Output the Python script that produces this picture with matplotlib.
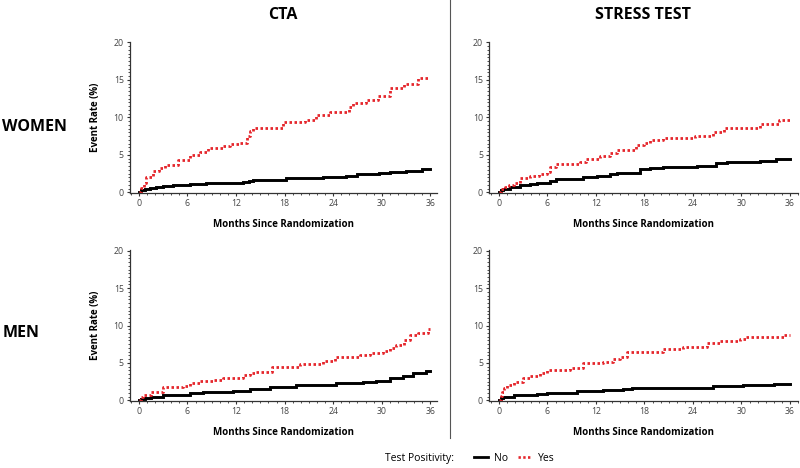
import matplotlib
matplotlib.use("Agg")
import matplotlib.pyplot as plt
from matplotlib.lines import Line2D
from matplotlib.ticker import MultipleLocator

plt.rcParams['font.family'] = ['Open Sans', 'DejaVu Sans']

# Kaplan-Meier-artige Kurven (Monat, Ereignisrate %)
cta_women_yes_t = [0, 0.3, 0.6, 0.9, 1.7, 2.5, 3.2, 4.8, 6.3, 7.5, 8.5, 10.4, 11.2, 12.4, 13.3, 13.7, 14.1,
                   17.8, 20.5, 21.9, 23.6, 26.0, 26.5, 28.1, 29.5, 31.0, 32.8, 34.5, 36]
cta_women_yes_v = [0, 0.6, 1.3, 2.0, 2.9, 3.3, 3.6, 4.3, 5.0, 5.4, 5.9, 6.2, 6.4, 6.6, 7.5, 8.2, 8.6,
                   9.4, 9.7, 10.3, 10.7, 11.4, 11.9, 12.3, 12.8, 13.9, 14.5, 15.3, 15.3]
cta_women_no_t = [0, 0.3, 0.7, 1.4, 2.1, 3.0, 4.2, 6.3, 8.3, 10.4, 12.9, 13.6, 14.1, 18.2, 22.7, 25.6,
                  26.9, 29.7, 31.0, 33.0, 35.0, 36]
cta_women_no_v = [0, 0.25, 0.45, 0.6, 0.75, 0.85, 1.0, 1.07, 1.2, 1.3, 1.4, 1.55, 1.65, 1.85, 2.05, 2.2,
                  2.4, 2.55, 2.75, 2.9, 3.1, 3.1]

st_women_yes_t = [0, 0.3, 0.7, 1.2, 1.8, 2.6, 3.8, 4.9, 5.9, 6.3, 7.1, 10.0, 10.8, 12.5, 13.7, 14.6,
                  17.0, 17.9, 18.7, 20.3, 24.2, 26.5, 27.8, 32.3, 34.6, 36]
st_women_yes_v = [0, 0.4, 0.7, 1.0, 1.3, 1.9, 2.2, 2.5, 2.75, 3.4, 3.8, 4.1, 4.5, 4.8, 5.3, 5.7,
                  6.3, 6.6, 7.0, 7.3, 7.5, 8.1, 8.6, 9.1, 9.6, 9.6]
st_women_no_t = [0, 0.2, 0.5, 1.4, 2.6, 3.8, 4.7, 5.9, 6.3, 7.1, 10.4, 12.1, 13.7, 14.6, 17.4, 18.7,
                 20.3, 24.5, 26.9, 28.2, 32.3, 34.3, 36]
st_women_no_v = [0, 0.3, 0.5, 0.75, 1.0, 1.1, 1.2, 1.25, 1.5, 1.75, 2.1, 2.2, 2.45, 2.6, 3.05, 3.25,
                 3.4, 3.5, 3.85, 4.1, 4.2, 4.5, 4.5]

cta_men_yes_t = [0, 0.2, 0.5, 1.5, 3.0, 5.4, 6.3, 7.5, 9.1, 10.4, 12.9, 13.7, 14.5, 16.4, 19.9, 22.7,
                 24.2, 27.3, 28.5, 30.2, 31.0, 31.8, 32.8, 33.5, 34.5, 35.7, 36]
cta_men_yes_v = [0, 0.4, 0.7, 1.15, 1.75, 1.95, 2.3, 2.55, 2.7, 3.0, 3.4, 3.6, 3.8, 4.4, 4.85, 5.2,
                 5.85, 6.05, 6.3, 6.6, 6.95, 7.4, 8.05, 8.7, 9.0, 9.6, 9.6]
cta_men_no_t = [0, 0.3, 0.7, 1.5, 3.0, 6.3, 7.9, 11.6, 13.7, 16.2, 19.4, 24.4, 27.7, 29.3, 31.0, 32.6,
                33.9, 35.5, 36]
cta_men_no_v = [0, 0.2, 0.35, 0.5, 0.67, 0.93, 1.1, 1.25, 1.45, 1.8, 2.0, 2.35, 2.45, 2.6, 2.95, 3.25,
                3.6, 3.85, 3.85]

st_men_yes_t = [0, 0.2, 0.4, 0.6, 1.0, 1.8, 3.0, 3.8, 5.1, 5.9, 8.8, 10.4, 12.9, 14.1, 15.0, 15.8,
                20.3, 22.8, 25.7, 27.3, 29.8, 30.6, 35.2, 36]
st_men_yes_v = [0, 0.6, 1.1, 1.6, 2.05, 2.5, 2.95, 3.25, 3.6, 4.05, 4.3, 4.95, 5.15, 5.5, 5.85, 6.5,
                6.8, 7.1, 7.7, 7.9, 8.15, 8.5, 8.8, 8.8]
st_men_no_t = [0, 0.2, 0.5, 1.8, 4.7, 5.9, 9.6, 12.9, 15.4, 16.4, 26.5, 30.2, 34.0, 36]
st_men_no_v = [0, 0.3, 0.5, 0.7, 0.9, 1.0, 1.2, 1.35, 1.55, 1.65, 1.95, 2.1, 2.2, 2.2]

col_titles = ["CTA", "STRESS TEST"]
row_titles = ["WOMEN", "MEN"]
x_ticks = [0, 6, 12, 18, 24, 30, 36]
y_ticks = [0, 5, 10, 15, 20]

RED = "#e5262c"
DOTS = (0, (0.9, 0.9))
panels = [
    ((0.1625, 0.5876, 0.384, 0.3226), (-1.1, 36.85), cta_women_no_t, cta_women_no_v, cta_women_yes_t, cta_women_yes_v, True),
    ((0.6116, 0.5876, 0.386, 0.3226), (-1.2, 37.0), st_women_no_t, st_women_no_v, st_women_yes_t, st_women_yes_v, False),
    ((0.1625, 0.1432, 0.384, 0.3216), (-1.1, 36.85), cta_men_no_t, cta_men_no_v, cta_men_yes_t, cta_men_yes_v, True),
    ((0.6116, 0.1432, 0.386, 0.3216), (-1.2, 37.0), st_men_no_t, st_men_no_v, st_men_yes_t, st_men_yes_v, False),
]

fig = plt.figure(figsize=(8, 4.68), dpi=100)

for rect, xl, tn, vn, ty, vy, show_ylab in panels:
    ax = fig.add_axes(rect)
    ax.plot(tn, vn, drawstyle="steps-post", color="black", lw=2.1, solid_joinstyle="miter")
    ax.plot(ty, vy, drawstyle="steps-post", color=RED, lw=2.0, linestyle=DOTS)
    ax.set_xlim(*xl)
    ax.set_ylim(-0.1, 20.05)
    ax.set_xticks(x_ticks)
    ax.set_yticks(y_ticks)
    ax.xaxis.set_minor_locator(MultipleLocator(1))
    ax.yaxis.set_minor_locator(MultipleLocator(0.5))
    for s in ["top", "right"]:
        ax.spines[s].set_visible(False)
    for s in ["left", "bottom"]:
        ax.spines[s].set_linewidth(0.9)
        ax.spines[s].set_color("#333333")
    ax.tick_params(which="major", length=2.5, width=0.8, colors="#333333", labelsize=6.3, pad=2,
                   labelcolor="#444444")
    ax.tick_params(which="minor", length=1.3, width=0.6, colors="#333333")
    ax.set_xlabel("Months Since Randomization", fontsize=7, fontweight="bold", labelpad=8)
    if show_ylab:
        ax.set_ylabel("Event Rate (%)", fontsize=7, fontweight="bold", labelpad=9)

# Spalten- und Zeilentitel
fig.text(0.354, 0.968, col_titles[0], ha="center", va="center", fontsize=11.5, fontweight="bold")
fig.text(0.804, 0.968, col_titles[1], ha="center", va="center", fontsize=11.5, fontweight="bold")
fig.text(0.003, 0.729, row_titles[0], ha="left", va="center", fontsize=11.5, fontweight="bold")
fig.text(0.003, 0.288, row_titles[1], ha="left", va="center", fontsize=11.5, fontweight="bold")

# Trennlinie
fig.add_artist(Line2D([0.5625, 0.5625], [0.064, 1.0], color="#555555", lw=0.8, transform=fig.transFigure))

# Legende
fig.text(0.481, 0.021, "Test Positivity:", ha="left", va="center", fontsize=7.5)
handles = [Line2D([], [], color="black", lw=2.0),
           Line2D([], [], color=RED, lw=1.9, linestyle=DOTS)]
fig.legend(handles, ["No", "Yes"], loc="center left", bbox_to_anchor=(0.593, 0.021), ncol=2,
           frameon=False, fontsize=7.5, handlelength=1.3, handletextpad=0.6, columnspacing=0.9,
           borderpad=0, borderaxespad=0)

fig.savefig("out.png", dpi=100)
